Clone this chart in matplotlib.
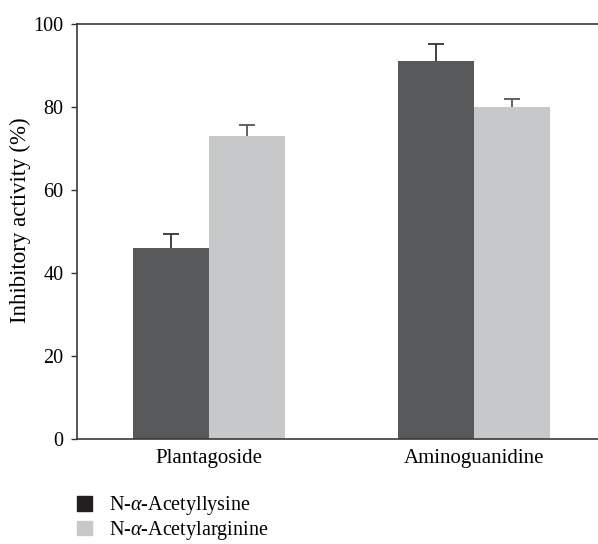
import matplotlib.pyplot as plt
import numpy as np
from matplotlib.patches import Patch

plt.rcParams['font.family'] = ['Liberation Serif', 'DejaVu Serif']
plt.rcParams['mathtext.fontset'] = 'custom'
plt.rcParams['mathtext.rm'] = 'Liberation Serif'
plt.rcParams['mathtext.it'] = 'Liberation Serif:italic'

# Datos
groups = ['Plantagoside', 'Aminoguanidine']
series = ['N-$\\alpha$-Acetyllysine', 'N-$\\alpha$-Acetylarginine']
lysine = [46.0, 91.0]
lysine_err = [3.4, 4.2]
arginine = [73.0, 80.0]
arginine_err = [2.7, 1.8]

fig = plt.figure(figsize=(5.98, 5.44), dpi=100)
ax = fig.add_axes([0.129, 0.193, 0.871, 0.763])

x = np.arange(len(groups))
w = 0.287
fs = 15


def bars_with_err(pos, vals, errs, color, ecolor):
    vals = np.array(vals)
    errs = np.array(errs)
    ax.bar(pos, vals, w, color=color, zorder=2)
    # solo la mitad superior del error
    ax.vlines(pos, vals, vals + errs, color=ecolor, lw=1.3, zorder=1)
    ax.plot(pos, vals + errs, ls='none', marker='_', markersize=11,
            markeredgewidth=1.3, color=ecolor, zorder=1)


bars_with_err(x - w / 2, lysine, lysine_err, '#58595b', '#333333')
bars_with_err(x + w / 2, arginine, arginine_err, '#c7c8ca', '#555555')

ax.set_xlim(-0.498, 1.468)
ax.set_ylim(0, 100)
ax.set_yticks([0, 20, 40, 60, 80, 100])
ax.set_xticks(x)
ax.set_xticklabels(groups)
ax.tick_params(axis='x', length=0, pad=7, labelsize=fs)
ax.tick_params(axis='y', length=4, width=1, labelsize=14.5, color='#333333', pad=6)
ax.set_ylabel('Inhibitory activity (%)', fontsize=16.5)
ax.yaxis.set_label_coords(-0.088, 0.528)

ax.spines['right'].set_visible(False)
for s in ['left', 'bottom', 'top']:
    ax.spines[s].set_color('#3a3a3a')
    ax.spines[s].set_linewidth(1.2)

handles = [Patch(color='#231f20'), Patch(color='#c7c8ca')]
fig.legend(handles, series, loc='upper left', bbox_to_anchor=(0.129, 0.091),
           frameon=False, fontsize=14.5, handlelength=0.75, handleheight=0.75,
           handletextpad=0.85, labelspacing=0.08, borderaxespad=0,
           borderpad=0)

fig.savefig('out.png', dpi=100)
